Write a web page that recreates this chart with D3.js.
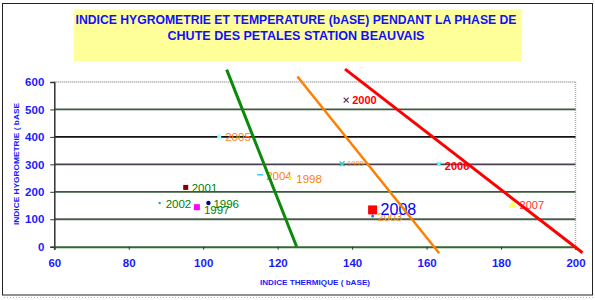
<!DOCTYPE html>
<html><head><meta charset="utf-8">
<script src="https://cdn.jsdelivr.net/npm/d3@7"></script>
<style>body{margin:0;background:#fff}svg{display:block}</style>
</head><body>
<script>
// ---- data ----
const titleLines = ["INDICE HYGROMETRIE ET TEMPERATURE (bASE) PENDANT LA PHASE DE", "CHUTE DES PETALES STATION BEAUVAIS"];
const xTicks = [60, 80, 100, 120, 140, 160, 180, 200];
const yTicks = [0, 100, 200, 300, 400, 500, 600];
const xTitle = "INDICE THERMIQUE ( bASE)";
const yTitle = "INDICE HYGROMETRIE ( bASE";
const years   = ["2003", "2000", "2005", "2004", "1998", "2001", "2002", "1996", "1997", "1999", "2006", "2007", "2008"];
const thermal = [145.5, 138.4, 104.3, 115.3, 123.4, 95.3, 88.3, 101.4, 98.3, 137.3, 163.3, 183.1, 145.5];
const hygro   = [112, 534, 401, 262, 250, 216, 159, 159, 144, 302, 302, 152, 134];
const greenLine  = [[106.3, 645], [125.1, 0]];
const orangeLine = [[125.3, 620], [163.4, -24]];
const redLine    = [[138.1, 647], [201.9, -22]];

// ---- styles ----
const pointStyle = {
  "2003": {shape: "circle", size: 1.5, fill: "#3366ff", color: "#ff8c1a", fs: 11, dx: 5, dy: 1, bold: false},
  "2000": {shape: "cross", size: 2.5, fill: "#663366", color: "#ff0000", fs: 11, dx: 6, dy: 0, bold: true},
  "2005": {shape: "rect", size: 2, fill: "#99ffff", color: "#ff7f1a", fs: 11.5, dx: 6, dy: 0, bold: false},
  "2004": {shape: "dash", size: 3, fill: "#33ccff", color: "#ff8000", fs: 11.5, dx: 6, dy: 1, bold: false},
  "1998": {shape: "circle", size: 1.5, fill: "#ffff00", color: "#ff8000", fs: 11.5, dx: 6, dy: 1, bold: false},
  "2001": {shape: "rect", size: 2.5, fill: "#800000", color: "#008000", fs: 11.5, dx: 6, dy: 1, bold: false},
  "2002": {shape: "circle", size: 1.2, fill: "#33a0a0", color: "#008000", fs: 11.5, dx: 6, dy: 1, bold: false},
  "1996": {shape: "circle", size: 2.2, fill: "#000080", color: "#008000", fs: 11.5, dx: 5, dy: 1, bold: false},
  "1997": {shape: "rect", size: 3, fill: "#ff00ff", color: "#008000", fs: 11.5, dx: 7, dy: 3, bold: false},
  "1999": {shape: "cross", size: 2.5, fill: "#33cccc", color: "#ff8000", fs: 7.5, dx: 5, dy: 0, bold: false},
  "2006": {shape: "cross", size: 2, fill: "#66ffff", color: "#ff0000", fs: 11, dx: 6, dy: 2, bold: true},
  "2007": {shape: "tri", size: 3.5, fill: "#ffff66", color: "#ff3030", fs: 11, dx: 7, dy: 0, bold: false},
  "2008": {shape: "rect", size: 4.5, fill: "#ff0000", color: "#0000ff", fs: 16, dx: 8, dy: 0, bold: false}
};

const W = 595, H = 300;
const svg = d3.select("body").append("svg").attr("width", W).attr("height", H)
  .style("font-family", "Arial, 'Liberation Sans', sans-serif");

const x = d3.scaleLinear().domain([60, 200]).range([54.3, 575.5]);
const y = d3.scaleLinear().domain([0, 600]).range([246.7, 82]);

// outer frame
svg.append("line").attr("x1", 4).attr("x2", 594).attr("y1", 297.5).attr("y2", 297.5)
  .attr("stroke", "#bbb").attr("stroke-dasharray", "1,2");
svg.append("rect").attr("x", 2.5).attr("y", 3.5).attr("width", 590).attr("height", 291.5)
  .attr("fill", "none").attr("stroke", "#222").attr("stroke-width", 1);

// title
svg.append("rect").attr("x", 74).attr("y", 9.5).attr("width", 448).attr("height", 52).attr("fill", "#ffff99");
const tl = [[296, 20, 441], [296, 35.5, 257]];
titleLines.forEach((t, i) => {
  svg.append("text").attr("x", tl[i][0]).attr("y", tl[i][1]).attr("text-anchor", "middle")
    .attr("dominant-baseline", "central")
    .attr("textLength", tl[i][2]).attr("lengthAdjust", "spacingAndGlyphs")
    .attr("font-size", 12.5).attr("font-weight", "bold").attr("fill", "#1010ff").text(t);
});

// plot frame (top & right dotted)
svg.append("line").attr("x1", x(60)).attr("x2", x(200)).attr("y1", y(600)).attr("y2", y(600))
  .attr("stroke", "#999").attr("stroke-width", 1.5).attr("stroke-dasharray", "1,1");
svg.append("line").attr("x1", x(200)).attr("x2", x(200)).attr("y1", y(600)).attr("y2", y(0))
  .attr("stroke", "#aaa").attr("stroke-width", 1.5).attr("stroke-dasharray", "1,1");

// grid lines
const gridColors = {100: "#4e5e4e", 200: "#3d5a3d", 300: "#4a3f4e", 400: "#111", 500: "#3d5a3d"};
yTicks.filter(v => v > 0 && v < 600).forEach(v => {
  svg.append("line").attr("x1", x(60)).attr("x2", x(200)).attr("y1", y(v)).attr("y2", y(v))
    .attr("stroke", gridColors[v]).attr("stroke-width", 1.8);
});

// y axis
const yAxis = d3.axisLeft(y).tickValues(yTicks).tickSize(4).tickPadding(6).tickFormat(d3.format("d"));
const gy = svg.append("g").attr("transform", `translate(${x(60)},0)`).call(yAxis);
gy.select(".domain").attr("stroke", "#333").attr("stroke-width", 1.5);
gy.selectAll(".tick line").attr("stroke", "#333");
gy.selectAll("text").attr("font-size", 11.5).attr("font-weight", "bold").attr("fill", "#1a1aff")
  .attr("font-family", "Arial, 'Liberation Sans', sans-serif");

// x axis
const xAxis = d3.axisBottom(x).tickValues(xTicks).tickSize(3).tickPadding(9).tickFormat(d3.format("d"));
const gx = svg.append("g").attr("transform", `translate(0,${y(0)})`).call(xAxis);
gx.select(".domain").attr("stroke", "#2f6a2f").attr("stroke-width", 2);
gx.selectAll(".tick line").attr("stroke", "#333");
gx.selectAll("text").attr("font-size", 11.5).attr("font-weight", "bold").attr("fill", "#1a1aff")
  .attr("font-family", "Arial, 'Liberation Sans', sans-serif");

// axis titles
svg.append("text").attr("x", 315).attr("y", 282).attr("text-anchor", "middle").attr("dominant-baseline", "central")
  .attr("font-size", 7.5).attr("font-weight", "bold").attr("fill", "#1a1aff")
  .attr("textLength", 110).attr("lengthAdjust", "spacingAndGlyphs").text(xTitle);
svg.append("text").attr("transform", "translate(16,164) rotate(-90)").attr("text-anchor", "middle")
  .attr("dominant-baseline", "central")
  .attr("font-size", 7.5).attr("font-weight", "bold").attr("fill", "#1a1aff")
  .attr("textLength", 122).attr("lengthAdjust", "spacingAndGlyphs").text(yTitle);

// points
const pts = years.map((yr, i) => ({yr, tx: thermal[i], hy: hygro[i]}));
const g = svg.append("g");
pts.forEach(p => {
  const s = pointStyle[p.yr];
  const px = x(p.tx), py = y(p.hy);
  if (s.shape === "circle") {
    g.append("circle").attr("cx", px).attr("cy", py).attr("r", s.size).attr("fill", s.fill);
  } else if (s.shape === "rect") {
    g.append("rect").attr("x", px - s.size).attr("y", py - s.size).attr("width", 2 * s.size).attr("height", 2 * s.size).attr("fill", s.fill);
  } else if (s.shape === "dash") {
    g.append("line").attr("x1", px - s.size).attr("x2", px + s.size).attr("y1", py).attr("y2", py).attr("stroke", s.fill).attr("stroke-width", 1.5);
  } else if (s.shape === "cross") {
    g.append("path").attr("d", `M${px - s.size},${py - s.size}L${px + s.size},${py + s.size}M${px - s.size},${py + s.size}L${px + s.size},${py - s.size}`)
      .attr("stroke", s.fill).attr("stroke-width", 1.3);
  } else if (s.shape === "tri") {
    g.append("path").attr("d", d3.symbol(d3.symbolTriangle, s.size * s.size * 2.5)()).attr("transform", `translate(${px},${py})`).attr("fill", s.fill);
  }
  g.append("text").attr("x", px + s.dx).attr("y", py + s.dy).attr("dominant-baseline", "central")
    .attr("font-size", s.fs).attr("font-weight", s.bold ? "bold" : "normal").attr("fill", s.color).text(p.yr);
});

// trend lines
const line = d3.line().x(d => x(d[0])).y(d => y(d[1]));
[[greenLine, "#0a8a0a", 3], [orangeLine, "#ff7f00", 2.5], [redLine, "#ff0000", 3]].forEach(([d, c, w]) => {
  svg.append("path").datum(d).attr("d", line).attr("stroke", c).attr("stroke-width", w).attr("fill", "none");
});
</script>
</body></html>
